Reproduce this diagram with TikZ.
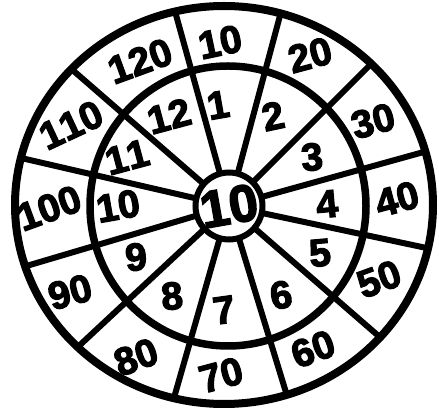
\documentclass[tikz,border=0pt]{standalone}
\usepackage{fontspec}
\setmainfont{Liberation Sans}
\newfontfamily\heavyfont{Liberation Sans}[FakeBold=3]
\usepackage{tikz}
\usetikzlibrary{positioning}

\tikzset{
  ring/.style={line width=6pt},
  rim/.style={line width=8pt},
  num/.style={font=\fontsize{39}{39}\selectfont\heavyfont\bfseries, inner sep=0pt},
  bignum/.style={font=\fontsize{52}{52}\selectfont\heavyfont\bfseries, inner sep=0pt},
}

\begin{document}
\begin{tikzpicture}[x=1pt,y=1pt]
\useasboundingbox (0,0) rectangle (439,412);

% Spokes (cut at the outer rim)
\begin{scope}
  \clip (224,207) ellipse [x radius=210, y radius=200];
  \foreach \a in {15.5,45,75,105.5,139,167,196.5,223,254,287,319,348} {
    \draw[ring] (229,206) ++(\a:33) -- ++(\a:240);
  }
\end{scope}

% Rims
\draw[rim] (224,207) ellipse [x radius=209, y radius=199];
\draw[rim, line width=7.5pt] (228,206) ellipse [x radius=138, y radius=140];

% Bull
\node[circle, draw, line width=6pt, fill=white, minimum size=67pt, inner sep=0pt] (bull) at (229,206) {};
\node[bignum, rotate=10] (bulltext) at (bull) {10};

% Inner ring numbers
\foreach \n/\x/\y/\r [count=\i] in {
    1/218/307/10, 2/273/296/12, 3/312/255/5, 4/327/208/5,
    5/320/159/5, 6/281/117/10, 7/224/102/8, 8/172/116/5,
    9/136/155/5, 10/118/206/10, 1\kern0pt1/127/255/15, 12/169/296/15} {
  \node[num, rotate=\r] (in\i) at (\x,\y) {\n};
}

% Outer ring numbers
\foreach \n/\x/\y/\r [count=\i] in {
    10/220/370/12, 20/310/357/15, 30/373/291/15, 40/397/213/15,
    50/379/133/20, 60/313/63/20, 70/221/37/15, 80/136/55/20,
    90/70/120/15, 100/49/204/20, 1\kern0pt10/71/287/25, 120/140/351/20} {
  \node[num, rotate=\r] (out\i) at (\x,\y) {\n};
}

\end{tikzpicture}
\end{document}
